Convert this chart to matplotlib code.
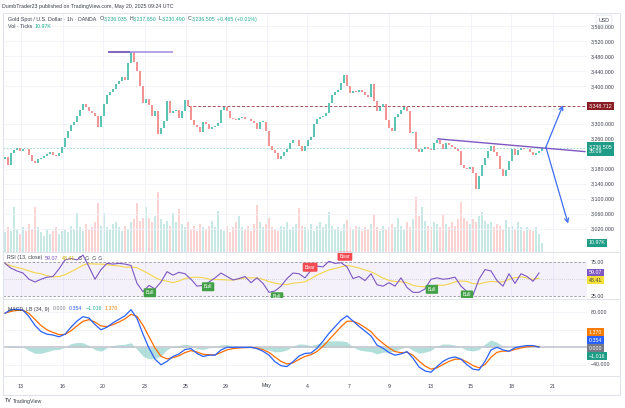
import numpy as np
import pandas as pd
import matplotlib
matplotlib.use('Agg')
import matplotlib.pyplot as plt
import matplotlib.transforms as mtransforms
from matplotlib.patches import Rectangle
from matplotlib.lines import Line2D

plt.rcParams['font.family'] = ['Liberation Sans', 'DejaVu Sans']

# Gold spot (OANDA), closes, one every ~4 hours, Apr 13 -> May 20
first_open = 3205
closes = [
    3212, 3190, 3222, 3230, 3236, 3228, 3234, 3232, 3218, 3200,
    3196, 3206, 3210, 3214, 3220, 3224, 3218, 3214, 3222, 3238,
    3262, 3282, 3296, 3306, 3322, 3338, 3352, 3346, 3334, 3330,
    3322, 3292, 3322, 3352, 3376, 3384, 3394, 3406, 3414, 3426,
    3418, 3462, 3492, 3466, 3440, 3402, 3356, 3366, 3350, 3320,
    3334, 3272, 3290, 3308, 3360, 3330, 3334, 3338, 3316, 3334,
    3364, 3348, 3310, 3298, 3292, 3278, 3306, 3300, 3286, 3292,
    3294, 3302, 3336, 3346, 3334, 3316, 3312, 3310, 3316, 3318,
    3314, 3312, 3308, 3302, 3286, 3306, 3306, 3280, 3240, 3230,
    3222, 3206, 3214, 3224, 3234, 3248, 3256, 3258, 3242, 3228,
    3240, 3256, 3266, 3300, 3312, 3318, 3322, 3330, 3356, 3378,
    3384, 3390, 3410, 3430, 3400, 3382, 3388, 3386, 3390, 3384,
    3378, 3372, 3406, 3360, 3334, 3346, 3354, 3310, 3290, 3280,
    3318, 3326, 3336, 3344, 3334, 3276, 3278, 3232, 3226, 3234,
    3238, 3232, 3230, 3250, 3258, 3246, 3232, 3248, 3244, 3238,
    3234, 3228, 3190, 3182, 3180, 3186, 3170, 3125, 3160, 3190,
    3210, 3228, 3240, 3224, 3214, 3180, 3160, 3178, 3200, 3234,
    3218, 3230, 3236, 3232, 3234, 3226, 3218, 3222, 3228, 3236.505,
]

# tick volume (K) per candle
volumes = [
    24, 30, 26, 55, 28, 22, 30, 26, 34, 28,
    55, 30, 24, 20, 28, 22, 26, 30, 22, 26,
    28, 24, 32, 28, 48, 30, 26, 34, 28, 30,
    36, 60, 32, 48, 30, 28, 34, 37, 30, 26,
    32, 28, 36, 40, 60, 38, 42, 55, 41, 36,
    44, 73, 40, 34, 38, 32, 48, 36, 52, 34,
    30, 36, 28, 32, 26, 34, 30, 28, 32, 38,
    30, 50, 28, 26, 32, 24, 30, 36, 44, 30,
    28, 32, 26, 34, 57, 36, 30, 34, 41, 30,
    28, 26, 32, 30, 36, 28, 30, 34, 54, 32,
    30, 28, 34, 26, 32, 37, 30, 34, 49, 32,
    28, 30, 26, 34, 39, 30, 28, 32, 30, 26,
    30, 28, 34, 45, 30, 26, 32, 28, 30, 34,
    30, 41, 32, 28, 36, 30, 40, 67, 44, 55,
    38, 32, 30, 36, 34, 30, 45, 34, 30, 36,
    32, 40, 61, 42, 38, 34, 40, 36, 44, 49,
    38, 34, 36, 30, 34, 32, 28, 39, 30, 32,
    28, 37, 30, 26, 30, 28, 26, 30, 22, 10.97,
]

# RSI(13), one reading every two candles
rsi = [
    73, 66, 62, 59, 50, 46, 50, 53, 54, 65,
    78, 80, 78, 85, 68, 50, 64, 73, 72, 73,
    72, 70, 44, 32, 41, 36, 46, 61, 56, 60,
    58, 50, 40, 41, 46, 52, 59, 54, 49, 51,
    54, 45, 52, 44, 31, 33, 40, 51, 59, 58,
    52, 63, 69, 68, 76, 73, 74, 68, 51, 54,
    48, 58, 42, 40, 45, 40, 52, 38, 31, 31,
    36, 50, 52, 50, 51, 53, 40, 32, 27, 50,
    64, 62, 48, 40, 58, 44, 58, 54, 47, 59.07,
]

# MACD_LB line, one reading every two candles
macd = [
    78, 86, 87, 85, 70, 50, 36, 30, 28, 24,
    30, 46, 60, 70, 67, 52, 40, 46, 56, 64,
    72, 86, 66, 30, -2, -27, -40, -32, -21, -15,
    -5, -3, -14, -21, -18, -18, -6, 0, 0, 0,
    0, 0, -3, -9, -18, -33, -42, -44, -33, -20,
    -14, -13, -2, 14, 32, 47, 62, 72, 60, 48,
    37, 26, 5, -2, -12, -18, -15, -10, -25, -45,
    -54, -57, -44, -32, -25, -22, -27, -40, -50, -52,
    -32, -6, 0, -6, -9, -1, 2, 4, 4, 0.354,
]

price_ticks = [3560, 3520, 3480, 3440, 3400, 3300, 3260, 3180, 3140, 3100, 3060, 3020]
date_labels = ['13', '16', '20', '23', '25', '29', 'May', '4', '7', '9', '13', '15', '18', '21']
date_pos = [5.3, 19.3, 32.7, 46.7, 60.3, 73.7, 87.3, 100.7, 114.7, 128, 141.7, 155.3, 168.7, 182.7]

bull_bars = [48.3, 67.7, 90.7, 142.3, 154]
bull_vals = [30.4, 39.1, 24.6, 35.4, 27.2]
bear_bars = [101.7, 113.3]
bear_vals = [67.4, 83.3]

last_price = 3236.505
target_price = 3348.712
top_line = 3492
trend_start, trend_end = (144.3, 3260), (193.3, 3226)
arrow_from = (180.3, 3238)
arrow_up, arrow_down = (186, 3350), (187.7, 3034)

UP, DOWN = '#5cc4b4', '#f29494'
TXT = '#3a3e4a'
TEAL = '#22ab94'

W, H = 625, 408
fig = plt.figure(figsize=(W / 100, H / 100), dpi=100)
fig.patch.set_facecolor('white')


def fx(px):
    return px / W


def fy(py):
    return 1 - py / H


def pane(top, bottom):
    return [fx(3), fy(bottom), fx(587) - fx(3), fy(top) - fy(bottom)]


ax_vol = fig.add_axes(pane(13, 252))
ax = fig.add_axes(pane(13, 252))
ax_rsi = fig.add_axes(pane(252, 298))
ax_macd = fig.add_axes(pane(298, 376))

XMIN, XMAX = -0.667, 194
for a in (ax_vol, ax, ax_rsi, ax_macd):
    a.set_xlim(XMIN, XMAX)
    a.set_xticks([])
    a.set_yticks([])
    for s in a.spines.values():
        s.set_visible(False)
    for d in date_pos:
        a.axvline(d, color='#f0f3fa', lw=0.6, zorder=0)
ax.patch.set_alpha(0)

ax.set_ylim(2958, 3596)
ax_vol.set_ylim(0, 291)
ax_rsi.set_ylim(22.8, 89.5)
ax_macd.set_ylim(-65.6, 112.7)

# ---- price pane
c = np.array(closes, dtype=float)
o = np.r_[first_open, c[:-1]]
x = np.arange(len(c))
up = c >= o
cols = np.where(up, UP, DOWN)

for p in price_ticks:
    ax.axhline(p, color='#f0f3fa', lw=0.6, zorder=0)

ax_vol.bar(x, volumes, width=0.7, color=np.where(up, '#26a69a', '#ef5350'), alpha=0.25, linewidth=0)
ax.bar(x, np.maximum(np.abs(c - o), 1.0), bottom=np.minimum(o, c), width=0.6, color=cols, linewidth=0, zorder=3)

ax.plot([61, XMAX], [target_price] * 2, ls=(0, (3, 2)), color='#a0505e', lw=0.7, zorder=2)
ax.axhline(last_price, ls=(0, (2, 2)), color='#8fd6ca', lw=0.6, zorder=2)
ax.plot([34.3, 41.7], [top_line] * 2, color='#5b3bb0', lw=1.1, zorder=4, solid_capstyle='butt')
ax.plot([41.7, 56], [top_line] * 2, color='#a08be0', lw=1.1, zorder=4, solid_capstyle='butt')
ax.plot([trend_start[0], trend_end[0]], [trend_start[1], trend_end[1]], color='#7e57c2', lw=1.0, zorder=4)
for tip in (arrow_up, arrow_down):
    ax.annotate('', xy=tip, xytext=arrow_from,
                arrowprops=dict(arrowstyle='->', color='#3f6ef2', lw=0.9,
                                shrinkA=0, shrinkB=0, mutation_scale=7), zorder=5)

# ---- RSI pane
rsi_x = np.arange(len(rsi)) * 2
rsi_ma = pd.Series(rsi).rolling(7, min_periods=1).mean()
ax_rsi.axhspan(25, 75, color='#7e57c2', alpha=0.08, lw=0)
for lvl in (25, 75):
    ax_rsi.axhline(lvl, color='#9598a1', ls=(0, (3, 2)), lw=0.6)
ax_rsi.axhline(50, color='#b2b5be', ls=(0, (1, 2)), lw=0.5)
ax_rsi.plot(rsi_x, rsi_ma, color='#f5d54a', lw=0.8)
ax_rsi.plot(rsi_x, rsi, color='#7e57c2', lw=0.8)
for bx, bv in zip(bull_bars, bull_vals):
    ax_rsi.text(bx, bv, 'Bull', ha='center', va='center', fontsize=3.6, color='white', zorder=6,
                bbox=dict(boxstyle='round,pad=0.4,rounding_size=0.2', fc='#43a047', ec='none'))
for bx, bv in zip(bear_bars, bear_vals):
    ax_rsi.text(bx, bv, 'Bear', ha='center', va='center', fontsize=3.6, color='white', zorder=6,
                bbox=dict(boxstyle='round,pad=0.4,rounding_size=0.2', fc='#f44a52', ec='none'))

# ---- MACD pane
macd_x = np.arange(len(macd)) * 2
macd_s = pd.Series(macd, dtype=float)
signal = macd_s.ewm(span=3, adjust=False).mean()
hist = macd_s - signal
for lvl in (80, 40, -40):
    ax_macd.axhline(lvl, color='#f0f3fa', lw=0.6, zorder=0)
ax_macd.fill_between(macd_x, hist, 0, color='#26a69a', alpha=0.35, lw=0)
ax_macd.axhline(0, color='#c3c6ce', lw=1.2)
ax_macd.plot(macd_x, signal, color='#ff6d00', lw=0.9)
ax_macd.plot(macd_x, macd, color='#2962ff', lw=0.9)

# ---- frame and separators
fig.add_artist(Rectangle((fx(3), fy(395)), fx(620) - fx(3), fy(13) - fy(395),
                         transform=fig.transFigure, fill=False, ec='#e0e3eb', lw=0.8))
for yy in (252, 298.5, 376):
    fig.add_artist(Line2D([fx(3), fx(620)], [fy(yy)] * 2, color='#e0e3eb', lw=0.7))

# ---- right axis labels
AX_X = fx(591)
tr_main = mtransforms.blended_transform_factory(fig.transFigure, ax.transData)
tr_vol = mtransforms.blended_transform_factory(fig.transFigure, ax_vol.transData)
tr_rsi = mtransforms.blended_transform_factory(fig.transFigure, ax_rsi.transData)
tr_macd = mtransforms.blended_transform_factory(fig.transFigure, ax_macd.transData)
FS = 3.8

for p in price_ticks:
    ax.text(AX_X, p, f'{p:,.3f}', transform=tr_main, fontsize=FS, color=TXT, va='center', zorder=6)
fig.text(fx(604), fy(20), 'USD', fontsize=FS, color=TXT, ha='center', va='center', zorder=10,
         bbox=dict(boxstyle='round,pad=0.45,rounding_size=0.3', fc='white', ec='#e0e3eb', lw=0.5))
ax.text(fx(589), target_price, f'{target_price:,.3f}', transform=tr_main, fontsize=FS, color='white',
        va='center', zorder=8, bbox=dict(boxstyle='square,pad=0.3', fc='#8a1c24', ec='none'))
ax.text(fx(589), last_price - 4, f'{last_price:,.3f}\n35:09', transform=tr_main, fontsize=FS,
        color='white', va='center', linespacing=1.1, zorder=8,
        bbox=dict(boxstyle='square,pad=0.3', fc='#1e9c86', ec='none'))
ax_vol.text(fx(589), volumes[-1], '10.97K', transform=tr_vol, fontsize=FS, color='white',
            va='center', zorder=8, bbox=dict(boxstyle='square,pad=0.3', fc='#1e9c86', ec='none'))

for lvl in (75, 25):
    ax_rsi.text(AX_X, lvl, f'{lvl:.2f}', transform=tr_rsi, fontsize=FS, color=TXT, va='center')
ax_rsi.text(fx(589), rsi[-1], f'{rsi[-1]:.2f}', transform=tr_rsi, fontsize=FS, color='white', va='center',
            zorder=8, bbox=dict(boxstyle='square,pad=0.3', fc='#7e57c2', ec='none'))
ax_rsi.text(fx(589), 48.41, '48.41', transform=tr_rsi, fontsize=FS, color=TXT, va='center',
            zorder=8, bbox=dict(boxstyle='square,pad=0.3', fc='#f5e03a', ec='none'))

for lvl in (80, -40):
    ax_macd.text(AX_X, lvl, f'{lvl:.3f}'.replace('-', '\u2212'), transform=tr_macd, fontsize=FS,
                 color=TXT, va='center')
for py, s, fc in [(332, '1.370', '#f57c00'), (340, '0.354', '#2962ff'),
                  (348, '0.000', '#787b86'), (356, '\u22121.016', '#1e9c86')]:
    fig.text(fx(589), fy(py), s, fontsize=FS, color='white', va='center', zorder=8,
             bbox=dict(boxstyle='square,pad=0.3', fc=fc, ec='none'))

# ---- date axis
tr_date = mtransforms.blended_transform_factory(ax_macd.transData, fig.transFigure)
for d, lab in zip(date_pos, date_labels):
    ax_macd.text(d, fy(386), lab, transform=tr_date, fontsize=FS, color=TXT, ha='center', va='center',
                 clip_on=False)

# ---- header texts
renderer = fig.canvas.get_renderer()


def runs(x_px, y_px, parts):
    xx = x_px
    for txt, col, gap in parts:
        t = fig.text(fx(xx), fy(y_px), txt, color=col, fontsize=FS, ha='left', va='center', zorder=9)
        xx += t.get_window_extent(renderer=renderer).width + gap


runs(2, 6.5, [('DumbTrader23 published on TradingView.com, May 20, 2025 09:24 UTC', TXT, 0)])
runs(8, 19, [('Gold Spot / U.S. Dollar \u00b7 1h \u00b7 OANDA', TXT, 3),
             ('O', TXT, 0.2), ('3,236.035', TEAL, 2),
             ('H', TXT, 0.2), ('3,237.850', TEAL, 2),
             ('L', TXT, 0.2), ('3,230.490', TEAL, 2),
             ('C', TXT, 0.2), ('3,236.505', TEAL, 2),
             ('+0.465 (+0.01%)', TEAL, 0)])
runs(8, 27, [('Vol \u00b7 Ticks', TXT, 2), ('10.97K', TEAL, 0)])
runs(7, 258, [('RSI (13, close)', TXT, 3), ('59.07', '#7e57c2', 3), ('48.41', '#c9a800', 3),
              ('\u2205', TXT, 2), ('\u2205', TXT, 2), ('\u2205', TXT, 2), ('\u2205', TXT, 0)])
runs(8, 309, [('MACD_LB (34, 9)', TXT, 3), ('0.000', '#787b86', 3), ('0.354', '#2962ff', 3),
              ('\u22121.016', TEAL, 3), ('1.370', '#f57c00', 0)])
runs(5, 401, [('TV', '#131722', 1.5), ('TradingView', TXT, 0)])

fig.savefig('out.png', dpi=100, facecolor='white')
